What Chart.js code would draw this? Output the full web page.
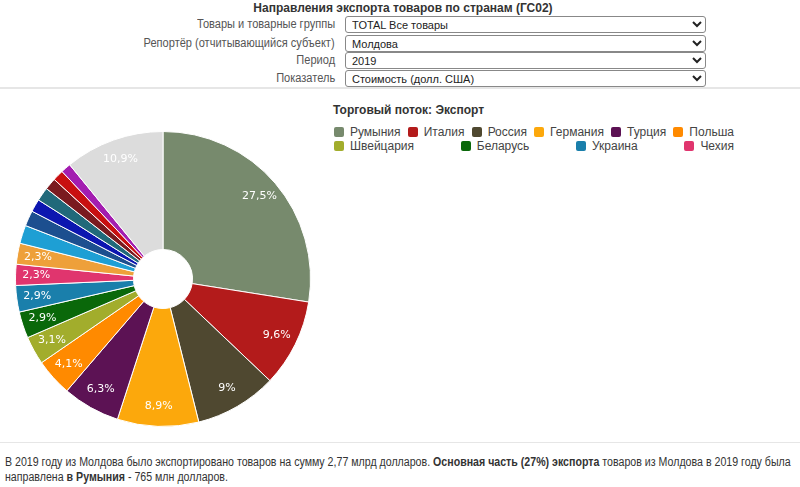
<!DOCTYPE html>
<html>
<head>
<meta charset="utf-8">
<script src="https://cdn.jsdelivr.net/npm/chart.js@4.4.0/dist/chart.umd.min.js"></script>
<style>
  body { margin: 0; width: 800px; height: 487px; overflow: hidden; background: #fff; position: relative;
         font-family: Tahoma, "DejaVu Sans", sans-serif; color: #333; }
  .title { position: absolute; top: 0; left: 0; width: 806px; text-align: center; font: bold 12px "Liberation Sans", sans-serif; line-height: 16px; color: #333; }
  .row { position: absolute; left: 0; width: 800px; height: 17px; }
  .row label { position: absolute; right: 465px; top: 0; font: 12px "Liberation Sans", sans-serif; line-height: 17px; color: #555;
               transform: scaleX(0.92); transform-origin: right center; white-space: nowrap; }
  .row select { position: absolute; left: 345px; top: 0; width: 361px; height: 17px; font: 11px "Liberation Sans", sans-serif; padding: 0 2px; border: 1px solid #888; border-radius: 3px; background: #fff; color: #222; }
  .sep { position: absolute; left: 0; width: 800px; height: 2px; background: #e6e6e6; }
  #chartBox { position: absolute; left: 15px; top: 131px; width: 296px; height: 296px; }
  .ltitle { position: absolute; left: 333px; top: 103px; font: bold 12px "Liberation Sans", sans-serif; color: #333; }
  .lrow { position: absolute; left: 334px; width: 400px; display: flex; justify-content: space-between; font: 12px "Liberation Sans", sans-serif; color: #444; line-height: 14px; }
  .lrow span { display: flex; align-items: center; }
  .lrow i { display: inline-block; width: 10px; height: 10px; border-radius: 2px; margin-right: 6px; }
  .foot { position: absolute; left: 5px; top: 455px; width: 898px; font: 12px "Liberation Sans", sans-serif; line-height: 15px; color: #333;
          transform: scaleX(0.885); transform-origin: left top; }
</style>
</head>
<body>
<div class="title">Направления экспорта товаров по странам (ГС02)</div>
<div class="row" style="top:16px"><label>Товары и товарные группы</label><select><option>TOTAL Все товары</option></select></div>
<div class="row" style="top:35px"><label>Репортёр (отчитывающийся субъект)</label><select><option>Молдова</option></select></div>
<div class="row" style="top:52px"><label>Период</label><select><option>2019</option></select></div>
<div class="row" style="top:70px"><label>Показатель</label><select><option>Стоимость (долл. США)</option></select></div>
<div class="sep" style="top:87px"></div>

<div id="chartBox"><canvas id="myChart" width="296" height="296"></canvas></div>
<div class="ltitle">Торговый поток: Экспорт</div>
<div class="lrow" id="legRow1" style="top:125px"></div>
<div class="lrow" id="legRow2" style="top:139px"></div>

<div class="sep" style="top:442px;height:1px"></div>
<div class="foot">В 2019 году из Молдова было экспортировано товаров на сумму 2,77 млрд долларов. <b>Основная часть (27%) экспорта</b> товаров из Молдова в 2019 году была направлена <b>в Румыния</b> - 765 млн долларов.</div>

<script>
// named partners shown in the legend
const countries = ['Румыния', 'Италия', 'Россия', 'Германия', 'Турция', 'Польша', 'Швейцария', 'Беларусь', 'Украина', 'Чехия'];
// share of export, %, clockwise from top (last slice = all other countries)
const shares = [27.5, 9.6, 9, 8.9, 6.3, 4.1, 3.1, 2.9, 2.9, 2.3, 2.3, 2.0, 1.7, 1.4, 1.5, 1.3, 1.2, 1.1, 10.9];
const colors = [
  '#778a6d', '#b31b1b', '#4f4830', '#fca80c', '#5c1254', '#ff8a00', '#a2ad2c', '#0a680a', '#1a7fab', '#e0356e',
  '#eea03a', '#1e9fd4', '#1c4f8f', '#0c16b0', '#21697a', '#7a1a1f', '#c80f10', '#a31db0', '#dcdcdc'
];
const labelMin = 2.3; // smaller slices have no label

const sliceLabels = {
  id: 'sliceLabels',
  afterDatasetsDraw(chart) {
    const ctx = chart.ctx;
    const meta = chart.getDatasetMeta(0);
    ctx.save();
    ctx.font = '11px Tahoma, "DejaVu Sans", sans-serif';
    ctx.fillStyle = '#fff';
    ctx.textAlign = 'center';
    ctx.textBaseline = 'middle';
    meta.data.forEach((arc, i) => {
      if (shares[i] < labelMin) return;
      const p = arc.getProps(['x', 'y', 'startAngle', 'endAngle', 'outerRadius'], true);
      const a = (p.startAngle + p.endAngle) / 2;
      const r = p.outerRadius * 0.86;
      ctx.fillText(String(shares[i]).replace('.', ',') + '%', p.x + Math.cos(a) * r, p.y + Math.sin(a) * r);
    });
    ctx.restore();
  }
};

const chart = new Chart(document.getElementById('myChart'), {
  type: 'doughnut',
  data: {
    labels: shares.map((v, i) => countries[i] || ''),
    datasets: [{
      data: shares,
      backgroundColor: colors,
      borderColor: '#ffffff',
      borderWidth: 1
    }]
  },
  options: {
    responsive: false,
    animation: false,
    cutout: '20%',
    layout: { padding: 0 },
    plugins: {
      legend: { display: false },
      tooltip: { enabled: false }
    }
  },
  plugins: [sliceLabels]
});

// html legend, two rows
function fillRow(el, from, to) {
  for (let i = from; i < to; i++) {
    const s = document.createElement('span');
    s.innerHTML = '<i style="background:' + colors[i] + '"></i>' + countries[i];
    el.appendChild(s);
  }
}
fillRow(document.getElementById('legRow1'), 0, 6);
fillRow(document.getElementById('legRow2'), 6, 10);
</script>
</body>
</html>
